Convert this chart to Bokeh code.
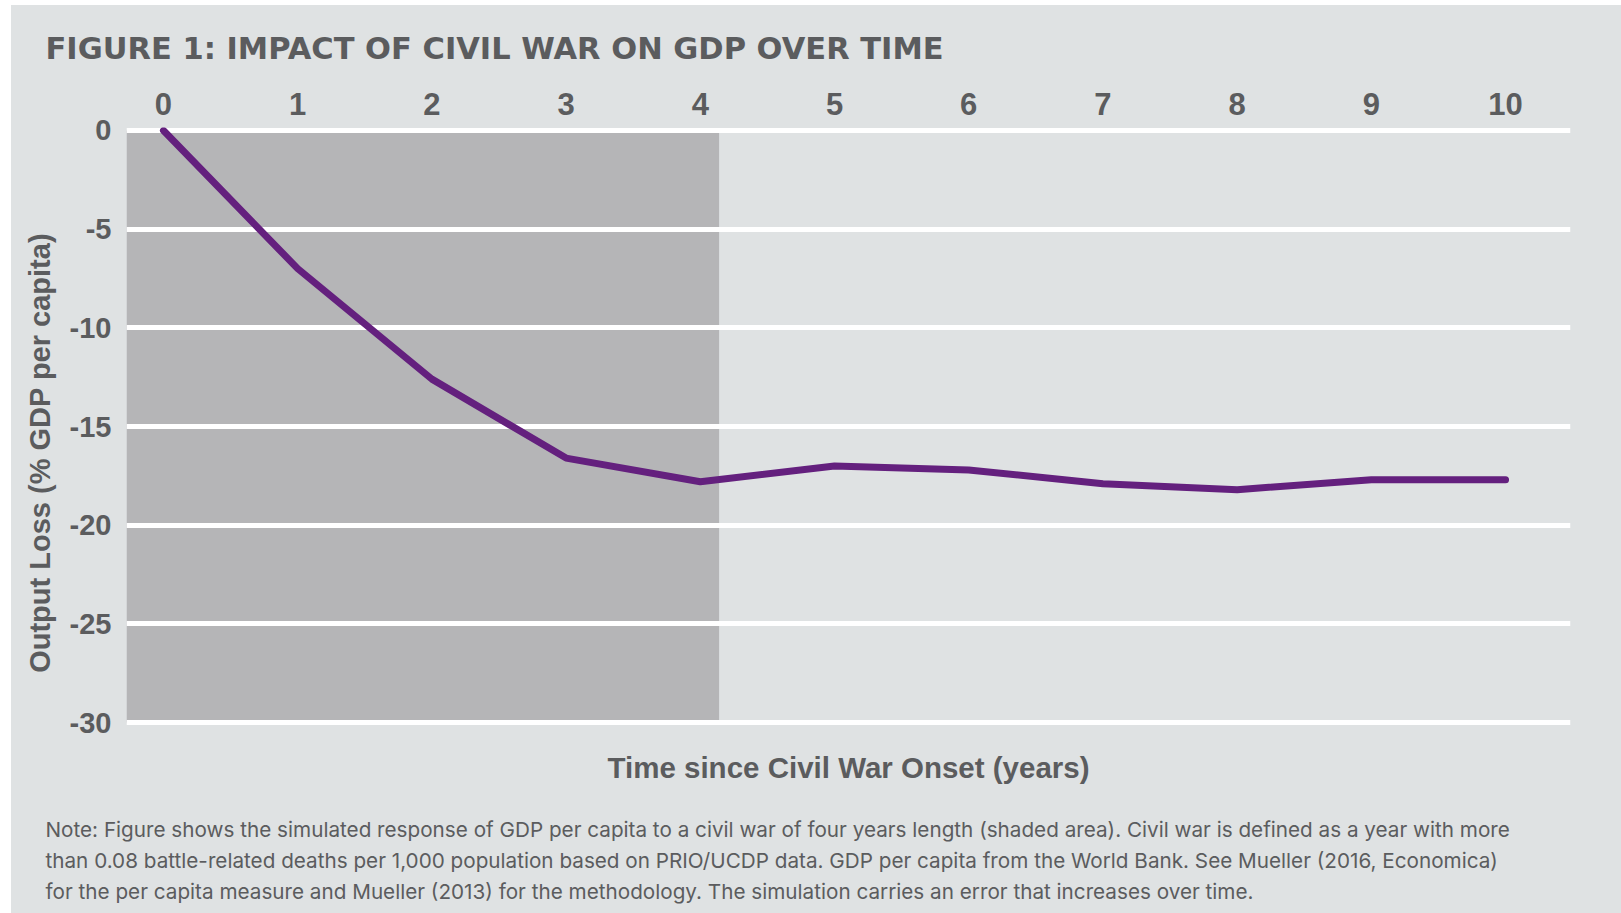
from bokeh.plotting import figure
from bokeh.layouts import column, row
from bokeh.models import FixedTicker, Range1d, PrintfTickFormatter
from bokeh.core.properties import value
from bokeh.embed import file_html
from bokeh.resources import INLINE

# Simulated response of GDP per capita to a civil war (years since onset)
years = [0, 1, 2, 3, 4, 5, 6, 7, 8, 9, 10]
output_loss = [0.0, -7.0, -12.6, -16.6, -17.8, -17.0, -17.2, -17.9, -18.2, -17.7, -17.7]
war_end = 4.14          # end of the shaded four-year war period
y_ticks = [0, -5, -10, -15, -20, -25, -30]
x_ticks = years

title_text = "FIGURE 1: IMPACT OF CIVIL WAR ON GDP OVER TIME"
x_title = "Time since Civil War Onset (years)"
y_title = "Output Loss (% GDP per capita)"
note_lines = [
    "Note: Figure shows the simulated response of GDP per capita to a civil war of four years length (shaded area). Civil war is defined as a year with more",
    "than 0.08 battle-related deaths per 1,000 population based on PRIO/UCDP data. GDP per capita from the World Bank. See Mueller (2016, Economica)",
    "for the per capita measure and Mueller (2013) for the methodology. The simulation carries an error that increases over time.",
]

BG = "#dfe2e3"
SHADE = "#b5b5b7"
PURPLE = "#64207e"
TEXT = "#5b5c5e"

W = 1610
HEAD_H = 75
MID_H = 669
FOOT_H = 164
LEFT_W = 55


def text_panel(width, height):
    """A bare figure whose frame is the whole canvas, in pixel-like units (y down)."""
    f = figure(width=width, height=height, output_backend="svg", toolbar_location=None,
               x_range=Range1d(0, width), y_range=Range1d(height, 0),
               min_border=0, x_axis_type=None, y_axis_type=None)
    f.background_fill_color = BG
    f.border_fill_color = BG
    f.outline_line_color = None
    f.grid.visible = False
    return f


# --- heading ---
head = text_panel(W, HEAD_H)
head.text(x=[34], y=[42.5], text=[title_text], text_font=value("DejaVu Sans"),
          text_font_style="bold", text_font_size="30.5px", text_color=TEXT,
          text_baseline="middle", text_align="left")

# --- vertical axis title ---
left = text_panel(LEFT_W, MID_H)
left.text(x=[28], y=[364], text=[y_title], angle=90, angle_units="deg",
          text_font=value("Liberation Sans"), text_font_style="bold",
          text_font_size="29px", text_color=TEXT,
          text_baseline="middle", text_align="center")

# --- chart ---
x0, x1 = -0.2755, 10.484
y0, y1 = -30.152, 0.152
p = figure(width=W - LEFT_W, height=MID_H, output_backend="svg", toolbar_location=None,
           x_range=Range1d(x0, x1), y_range=Range1d(y0, y1),
           x_axis_location="above",
           min_border_left=59, min_border_right=51,
           min_border_top=47, min_border_bottom=MID_H - 645)
p.background_fill_color = BG
p.border_fill_color = BG
p.outline_line_color = None

# shaded war period, beneath the grid lines
p.quad(left=[x0], right=[war_end], top=[0], bottom=[-30],
       fill_color=SHADE, line_color=None, level="image")

p.line(years, output_loss, line_color=PURPLE, line_width=7,
       line_cap="round", line_join="round")

p.xgrid.visible = False
p.ygrid.ticker = FixedTicker(ticks=y_ticks)
p.ygrid.grid_line_color = "white"
p.ygrid.grid_line_width = 5

for ax, ticks, standoff, size in ((p.xaxis[0], x_ticks, 13, "31px"),
                                  (p.yaxis[0], y_ticks, 15, "29px")):
    ax.ticker = FixedTicker(ticks=ticks)
    ax.formatter = PrintfTickFormatter(format="%d")
    ax.axis_line_color = None
    ax.major_tick_line_color = None
    ax.minor_tick_line_color = None
    ax.major_tick_in = 0
    ax.major_tick_out = 0
    ax.minor_tick_in = 0
    ax.minor_tick_out = 0
    ax.major_label_standoff = standoff
    ax.major_label_text_font = "Liberation Sans"
    ax.major_label_text_font_style = "bold"
    ax.major_label_text_font_size = size
    ax.major_label_text_color = TEXT

# --- horizontal axis title and note ---
foot = text_panel(W, FOOT_H)
foot.text(x=[837], y=[18], text=[x_title], text_font=value("Liberation Sans"),
          text_font_style="bold", text_font_size="29.5px", text_color=TEXT,
          text_baseline="middle", text_align="center")
foot.text(x=[34, 34, 34], y=[80, 111, 142], text=note_lines,
          text_font=value("Inter"), text_font_size="20.7px", text_color=TEXT,
          text_baseline="middle", text_align="left")

layout = column(head, row(left, p, spacing=0), foot, spacing=0,
                styles={"background-color": BG})
layout.margin = (5, 0, 0, 11)

open("out.html", "w").write(file_html(layout, INLINE))
